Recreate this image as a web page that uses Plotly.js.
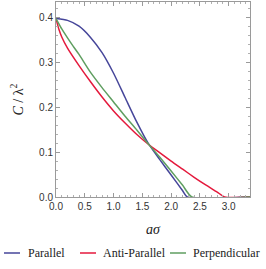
<!DOCTYPE html>
<html>
<head>
<meta charset="utf-8">
<script src="https://cdn.plot.ly/plotly-3.0.1.min.js"></script>
<style>html,body{margin:0;padding:0;background:#fff;}#chart{width:266px;height:269px;}</style>
</head>
<body>
<div id="chart"></div>
<script>
// Parallel
const parX = [0, 0.2, 0.4, 0.6, 0.8, 1.0, 1.2, 1.4, 1.6, 1.8, 2.0, 2.2, 2.28, 3.4];
const parY = [0.398, 0.394, 0.381, 0.356, 0.322, 0.276, 0.222, 0.168, 0.120, 0.084, 0.049, 0.014, 0, 0];
// Anti-Parallel
const antiX = [0, 0.05, 0.1, 0.2, 0.4, 0.6, 0.8, 1.0, 1.2, 1.4, 1.62, 1.8, 2.0, 2.2, 2.4, 2.6, 2.8, 2.93, 3.4];
const antiY = [0.398, 0.374, 0.357, 0.332, 0.293, 0.257, 0.223, 0.192, 0.165, 0.140, 0.116, 0.099, 0.080, 0.062, 0.044, 0.027, 0.011, 0, 0];
// Perpendicular
const perpX = [0, 0.1, 0.2, 0.3, 0.4, 0.6, 0.8, 1.0, 1.2, 1.4, 1.6, 1.8, 2.0, 2.2, 2.36, 3.4];
const perpY = [0.398, 0.375, 0.355, 0.336, 0.318, 0.278, 0.244, 0.212, 0.180, 0.150, 0.119, 0.089, 0.058, 0.026, 0, 0];

const names = ['Parallel', 'Anti-Parallel', 'Perpendicular'];
const colors = ['#46469a', '#e4193c', '#5f9e60'];

const traces = [
  {x: parX, y: parY, name: names[0], line: {color: colors[0]}},
  {x: antiX, y: antiY, name: names[1], line: {color: colors[1]}},
  {x: perpX, y: perpY, name: names[2], line: {color: colors[2]}}
].map(t => Object.assign(t, {type: 'scatter', mode: 'lines', showlegend: false,
  line: Object.assign(t.line, {width: 1.5, shape: 'spline', smoothing: 0.6})}));

const tickFont = {family: 'Liberation Sans, Arial, sans-serif', size: 10, color: '#333'};
const axisCommon = {
  showline: true, linecolor: '#9a9a9a', linewidth: 1, mirror: 'ticks',
  ticks: 'inside', ticklen: 4, tickcolor: '#9a9a9a', tickwidth: 1,
  showgrid: false, zeroline: false, tickfont: tickFont, automargin: false,
  minor: {ticks: 'inside', ticklen: 2, tickcolor: '#b0b0b0', showgrid: false}
};

// manual legend (line samples as shapes, labels as text), positions in pixels
const plotL = 56, plotW = 194;
const px = p => (p - plotL) / plotW;
const legendItems = [
  {x0: 4, x1: 20, tx: 26},
  {x0: 80, x1: 96, tx: 101},
  {x0: 170, x1: 186, tx: 191}
];
const legendYpx = 253; // from top
const plotT = 2, plotH = 195;
const py = p => 1 - (p - plotT) / plotH;

const shapes = legendItems.map((it, i) => ({
  type: 'line', xref: 'paper', yref: 'paper',
  x0: px(it.x0), x1: px(it.x1), y0: py(legendYpx), y1: py(legendYpx),
  line: {color: colors[i], width: 1.5}
}));
const annotations = legendItems.map((it, i) => ({
  xref: 'paper', yref: 'paper', x: px(it.tx), y: py(legendYpx), xanchor: 'left', yanchor: 'middle',
  text: names[i], showarrow: false,
  font: {family: '"Liberation Serif", "DejaVu Serif", serif', size: 12, color: '#222'}
}));

const layout = {
  width: 266, height: 269,
  margin: {l: 56, r: 16, t: 2, b: 72},
  paper_bgcolor: '#fff', plot_bgcolor: '#fff',
  showlegend: false,
  shapes: shapes, annotations: annotations,
  xaxis: Object.assign({}, axisCommon, {
    range: [0, 3.37], tickvals: [0, 0.5, 1, 1.5, 2, 2.5, 3], ticktext: ['0.0','0.5','1.0','1.5','2.0','2.5','3.0'],
    minor: Object.assign({}, axisCommon.minor, {dtick: 0.1, tick0: 0}),
    title: {text: '<i>aσ</i>', font: {family: '"Liberation Serif", serif', size: 14, color: '#222'}, standoff: 13}
  }),
  yaxis: Object.assign({}, axisCommon, {
    range: [0, 0.435], tickvals: [0, 0.1, 0.2, 0.3, 0.4], ticktext: ['0.0','0.1','0.2','0.3','0.4'],
    minor: Object.assign({}, axisCommon.minor, {dtick: 0.02, tick0: 0}),
    title: {text: '<i>C</i> / λ<sup>2</sup>', font: {family: '"Liberation Serif", serif', size: 14, color: '#222'}, standoff: 12}
  })
};

Plotly.newPlot('chart', traces, layout, {displayModeBar: false, staticPlot: true});
</script>
</body>
</html>
